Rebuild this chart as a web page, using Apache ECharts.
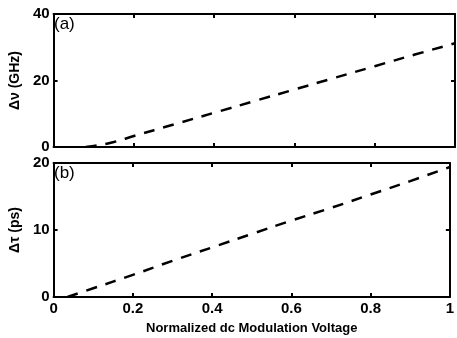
<!DOCTYPE html>
<html>
<head>
<meta charset="utf-8">
<script src="https://cdn.jsdelivr.net/npm/echarts@6/dist/echarts.min.js"></script>
<style>
  html, body {margin: 0; padding: 0; background: #fff;}
  #chart {width: 457px; height: 338px;}
</style>
</head>
<body>
<div id="chart"></div>
<script>
// panel (a): frequency shift vs normalized dc voltage
const voltA = [0.08, 0.1, 0.15, 0.2, 0.3, 0.4, 0.5, 0.6, 0.7, 0.8, 0.9, 1.0];
const dNu = [0, 0.3, 1.5, 3.3, 6.8, 10.3, 13.8, 17.3, 20.8, 24.3, 27.8, 31.2];
// panel (b): delay vs normalized dc voltage
const voltB = [0.035, 0.1, 0.2, 0.3, 0.4, 0.5, 0.6, 0.7, 0.8, 0.9, 1.0];
const dTau = [0, 1.3, 3.3, 5.4, 7.4, 9.4, 11.4, 13.3, 15.3, 17.3, 19.4];
const xTicks = [0, 0.2, 0.4, 0.6, 0.8, 1];

const font = 'Liberation Sans';
const chart = echarts.init(document.getElementById('chart'));

const xBase = (grid, pos, labels) => ({
  type: 'value', gridIndex: grid, position: pos, min: 0, max: 1, interval: 0.2,
  axisLine: {show: true, onZero: false, lineStyle: {color: '#000', width: 2}},
  axisTick: {show: true, inside: true, length: 4, lineStyle: {color: '#000', width: 2}},
  axisLabel: {show: labels, color: '#000', fontFamily: font, fontWeight: 'bold', fontSize: 15, margin: 4,
    formatter: v => xTicks.includes(+v.toFixed(1)) ? String(+v.toFixed(1)) : ''},
  splitLine: {show: false}
});
const yBase = (grid, pos, max, interval, labels, name) => ({
  type: 'value', gridIndex: grid, position: pos, min: 0, max: max, interval: interval,
  name: name, nameLocation: 'middle', nameGap: 30,
  nameTextStyle: {color: '#000', fontFamily: font, fontWeight: 'bold', fontSize: 14},
  axisLine: {show: true, onZero: false, lineStyle: {color: '#000', width: 2}},
  axisTick: {show: true, inside: true, length: 4, lineStyle: {color: '#000', width: 2}},
  axisLabel: {show: labels, color: '#000', fontFamily: font, fontWeight: 'bold', fontSize: 15, margin: 4},
  splitLine: {show: false}
});

const xBottom = xBase(1, 'bottom', true);
xBottom.name = 'Normalized dc Modulation Voltage';
xBottom.nameLocation = 'middle';
xBottom.nameGap = 25;
xBottom.nameTextStyle = {color: '#000', fontFamily: font, fontWeight: 'bold', fontSize: 13};

const dash = {color: '#000', width: 2.5, type: [11, 9]};

chart.setOption({
  animation: false,
  grid: [
    {left: 51, top: 14, width: 404, height: 133},
    {left: 51, top: 163, width: 404, height: 134}
  ],
  xAxis: [
    xBase(0, 'bottom', false),
    xBase(0, 'top', false),
    xBottom,
    xBase(1, 'top', false)
  ],
  yAxis: [
    yBase(0, 'left', 40, 20, true, 'Δν (GHz)'),
    yBase(0, 'right', 40, 20, false, ''),
    yBase(1, 'left', 20, 10, true, 'Δτ (ps)'),
    yBase(1, 'right', 20, 10, false, '')
  ],
  graphic: [
    {type: 'text', left: 54, top: 16, style: {text: '(a)', fontFamily: font, fontSize: 17, fill: '#000'}},
    {type: 'text', left: 54, top: 165, style: {text: '(b)', fontFamily: font, fontSize: 17, fill: '#000'}}
  ],
  series: [
    {type: 'line', xAxisIndex: 0, yAxisIndex: 0, showSymbol: false, smooth: true,
      data: voltA.map((v, i) => [v, dNu[i]]), lineStyle: dash},
    {type: 'line', xAxisIndex: 2, yAxisIndex: 2, showSymbol: false, smooth: true,
      data: voltB.map((v, i) => [v, dTau[i]]), lineStyle: dash}
  ]
});
</script>
</body>
</html>
